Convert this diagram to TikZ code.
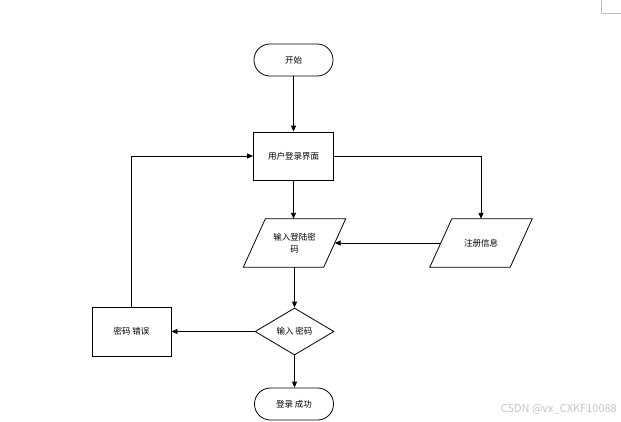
\documentclass[tikz,border=0pt]{standalone}
\usepackage{fontspec}
\setmainfont{Noto Sans CJK SC}
\usetikzlibrary{shapes.geometric,arrows.meta}
\begin{document}
\begin{tikzpicture}[x=1pt,y=-1pt,
  every node/.style={font=\fontsize{8.5}{11.5}\selectfont, inner sep=0pt},
  term/.style={draw, line width=0.8pt, rounded corners=15.9pt, minimum width=79pt, minimum height=32pt},
  procbox/.style={draw, line width=0.8pt, minimum width=80pt, minimum height=48pt},
  iobox/.style={minimum width=80pt, minimum height=48pt, align=center},
  decbox/.style={draw, diamond, line width=0.8pt, minimum width=79pt, minimum height=47pt},
  conn/.style={line width=0.8pt, -{Triangle[length=6pt,width=5pt]}},
  para/.style={draw, line width=0.8pt}
]
\useasboundingbox (0,0) rectangle (621,421);
\fill[white] (0,0) rectangle (621,421);
% page corner marker
\draw[gray!50, line width=0.6pt] (601,0) -- (601,13) -- (621,13);

\node[term] (start) at (293.5,60) {开始};
\node[procbox] (login) at (293.5,156) {用户登录界面};
\node[iobox] (input) at (294.5,243) {输入登陆密\\码};
\node[iobox] (reg) at (481,243) {注册信息};
\node[decbox] (check) at (294.5,331.5) {输入 密码};
\node[procbox, minimum width=79pt, minimum height=49pt] (err) at (131.5,331.5) {密码 错误};
\node[term] (done) at (294,404) {登录 成功};

% parallelograms
\draw[para] ([xshift=-11pt]input.south west) -- ([xshift=11pt]input.north west) -- ([xshift=11pt]input.north east) -- ([xshift=-11pt]input.south east) -- cycle;
\draw[para] ([xshift=-11pt]reg.south west) -- ([xshift=11pt]reg.north west) -- ([xshift=11pt]reg.north east) -- ([xshift=-11pt]reg.south east) -- cycle;

% connectors
\draw[conn] (start.south) -- (start.south |- login.north);
\draw[conn] (login.south) -- (login.south |- input.north);
\draw[conn] (login.east) -| (reg.north);
\draw[conn] (reg.west) -- (input.east);
\draw[conn] (input.south -| check.north) -- (check.north);
\draw[conn] (check.west) -- (err.east);
\draw[conn] (err.north) |- (login.west);
\draw[conn] (check.south) -- (check.south |- done.north);

% watermark
\node[text=gray!45, anchor=east, font=\fontsize{11}{12}\selectfont] (wm) at (617,409) {CSDN @vx\_CXKF10088};
\end{tikzpicture}
\end{document}
